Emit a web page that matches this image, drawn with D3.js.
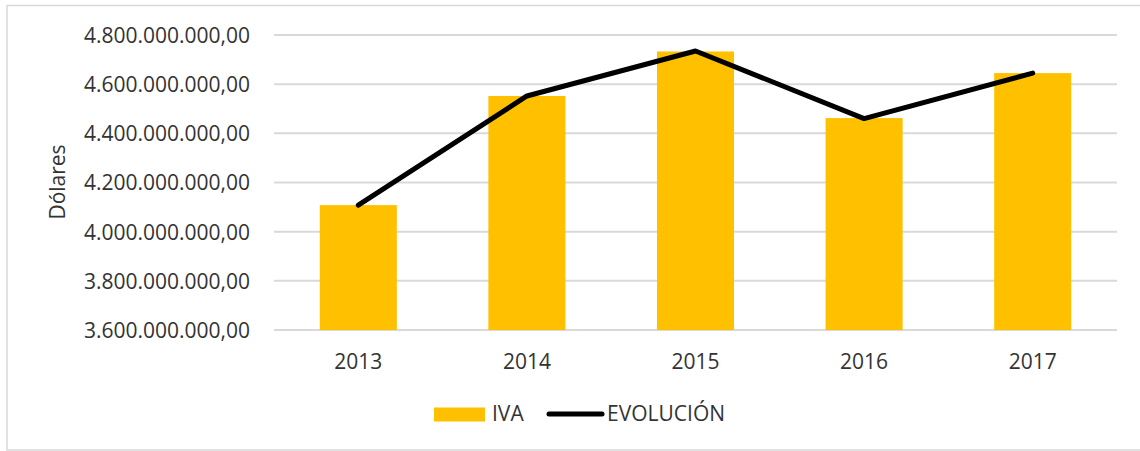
<!DOCTYPE html>
<html><head><meta charset="utf-8">
<script src="https://cdn.jsdelivr.net/npm/d3@7"></script>
<style>body{margin:0;background:#fff}svg{display:block}text{font-family:"Open Sans","Noto Sans",sans-serif;fill:#333}</style>
</head><body>
<svg id="c" width="1140" height="451"></svg>
<script>
const years = ["2013","2014","2015","2016","2017"];
const iva = [4108000000, 4552000000, 4733000000, 4462000000, 4645000000];
const evolucion = [4108000000, 4552000000, 4735000000, 4460000000, 4645000000];
const yTicks = [3600000000,3800000000,4000000000,4200000000,4400000000,4600000000,4800000000];
const seriesNames = ["IVA","EVOLUCIÓN"];

const svg = d3.select("#c");
const m = {l:274, r:1117, t:35, b:330};

// chart border
svg.append("rect").attr("x",7).attr("y",5.5).attr("width",1145).attr("height",444.5)
  .attr("fill","none").attr("stroke","#d9d9d9").attr("stroke-width",1.5);

const x = d3.scaleBand().domain(years).range([m.l,m.r]).paddingInner(0.543).paddingOuter(0.2715);
const y = d3.scaleLinear().domain([3600000000,4800000000]).range([m.b,m.t]);

const fmt = v => d3.formatLocale({decimal:",",thousands:".",grouping:[3],currency:["",""]}).format(",.2f")(v);

// gridlines
svg.append("g").selectAll("line").data(yTicks).join("line")
  .attr("x1",m.l).attr("x2",m.r).attr("y1",d=>y(d)).attr("y2",d=>y(d))
  .attr("stroke","#d9d9d9").attr("stroke-width",2);

// y axis labels
const yAxis = d3.axisLeft(y).tickValues(yTicks).tickFormat(fmt).tickSize(0).tickPadding(0);
const ya = svg.append("g").attr("transform",`translate(250,0)`).call(yAxis);
ya.select(".domain").remove();
ya.selectAll("text").style("font-size","21px").attr("fill","#333").attr("dy","0.35em")
  .style("font-family","'Open Sans',sans-serif");

// bars
svg.append("g").selectAll("rect").data(iva).join("rect")
  .attr("x",(d,i)=>x(years[i])).attr("width",x.bandwidth())
  .attr("y",d=>y(d)).attr("height",d=>y(3600000000)-y(d)).attr("fill","#FFC000");

// x axis labels
const xAxis = d3.axisBottom(x).tickSize(0).tickPadding(0);
const xa = svg.append("g").attr("transform",`translate(0,${m.b})`).call(xAxis);
xa.select(".domain").remove();
xa.selectAll("text").style("font-size","21px").attr("fill","#333").attr("y",39).attr("dy",0)
  .style("font-family","'Open Sans',sans-serif");

// line
const line = d3.line().x((d,i)=>x(years[i])+x.bandwidth()/2).y(d=>y(d));
svg.append("path").datum(evolucion).attr("d",line).attr("fill","none")
  .attr("stroke","#000").attr("stroke-width",5).attr("stroke-linejoin","round").attr("stroke-linecap","round");

// y title
svg.append("text").attr("transform","translate(65,182) rotate(-90)").attr("text-anchor","middle")
  .style("font-size","21px").text("Dólares");

// legend
const lg = svg.append("g");
lg.append("rect").attr("x",434).attr("y",407.5).attr("width",51).attr("height",14).attr("fill","#FFC000");
lg.append("text").attr("x",492).attr("y",414).attr("dy","0.35em").style("font-size","21px").text(seriesNames[0]);
lg.append("line").attr("x1",549).attr("x2",602).attr("y1",414).attr("y2",414)
  .attr("stroke","#000").attr("stroke-width",5).attr("stroke-linecap","round");
lg.append("text").attr("x",607).attr("y",414).attr("dy","0.35em").style("font-size","21px").text(seriesNames[1]);
</script>
</body></html>
